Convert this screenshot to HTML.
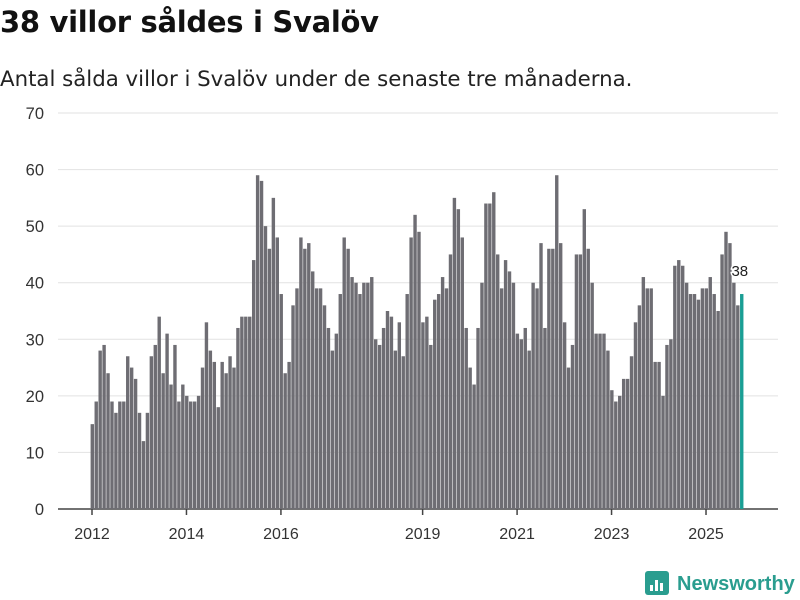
<!DOCTYPE html>
<html><head><meta charset="utf-8"><style>
body{margin:0;width:800px;height:600px;background:#fff;font-family:"Liberation Sans","DejaVu Sans",sans-serif;overflow:hidden;position:relative}
#title{position:absolute;left:0;top:5px;font-size:29px;font-weight:bold;color:#111;margin:0;font-family:"DejaVu Sans","Liberation Sans",sans-serif;letter-spacing:-0.3px}
#sub{position:absolute;left:0;top:67px;font-size:21.3px;color:#222;font-family:"DejaVu Sans","Liberation Sans",sans-serif}
svg{position:absolute;left:0;top:0}
</style></head><body>
<h1 id="title">38 villor såldes i Svalöv</h1>
<div id="sub">Antal sålda villor i Svalöv under de senaste tre månaderna.</div>
<svg id="chart" width="800" height="600"></svg>
<script>
const values=[15,19,28,29,24,19,17,19,19,27,25,23,17,12,17,27,29,34,24,31,22,29,19,22,20,19,19,20,25,33,28,26,18,26,24,27,25,32,34,34,34,44,59,58,50,46,55,48,38,24,26,36,39,48,46,47,42,39,39,36,32,28,31,38,48,46,41,40,38,40,40,41,30,29,32,35,34,28,33,27,38,48,52,49,33,34,29,37,38,41,39,45,55,53,48,32,25,22,32,40,54,54,56,45,39,44,42,40,31,30,32,28,40,39,47,32,46,46,59,47,33,25,29,45,45,53,46,40,31,31,31,28,21,19,20,23,23,27,33,36,41,39,39,26,26,20,29,30,43,44,43,40,38,38,37,39,39,41,38,35,45,49,47,40,36,38];
const startYear=2012;
const yTicks=[0,10,20,30,40,50,60,70];
const xTickYears=[2012,2014,2016,2019,2021,2023,2025];
const NS='http://www.w3.org/2000/svg';
const svg=document.getElementById('chart');
const y=v=>509-v*(396/70);
const x=i=>92+i*3.936;
function mk(t,a){const e=document.createElementNS(NS,t);for(const k in a)e.setAttribute(k,a[k]);svg.appendChild(e);return e;}
yTicks.forEach(t=>{
  const g=mk('line',{x1:58,x2:778,y1:y(t),y2:y(t),stroke:t===0?'#444':'#e2e2e2','stroke-width':t===0?1.5:1});
  
  
  const l=mk('text',{x:44,y:y(t)+6,'text-anchor':'end','font-size':16.5,fill:'#333'});
  l.textContent=t;
  
  
});
values.forEach((v,i)=>{
  const last=i===values.length-1;
  const r=mk('rect',{x:x(i)-1.4,y:y(v),width:3.4,height:y(0)-y(v),fill:last?'#1a9e94':'#6e6d73'});
  
  
});
const li=values.length-1;
const lab=mk('text',{x:x(li)-10,y:y(values[li])-18,'font-size':15,fill:'#222',stroke:'#fff','stroke-width':3,'paint-order':'stroke'});
lab.textContent=values[li];


xTickYears.forEach(yr=>{
  const xi=x((yr-startYear)*12);
  const tk=mk('line',{x1:xi,x2:xi,y1:509,y2:515,stroke:'#444','stroke-width':1.5});
  
  
  const t=mk('text',{x:xi,y:539,'text-anchor':'middle','font-size':16,fill:'#333'});
  t.textContent=yr;
  
  
});
const logo=mk('g',{});


const box=mk('rect',{x:645,y:571,width:24,height:24,rx:3,fill:'#2a9d8f'});


[[650,585,3,6],[655,580,3,11],[660,583,3,8]].forEach(b=>{const r=mk('rect',{x:b[0],y:b[1],width:b[2],height:b[3],fill:'#fff'});});
const lt=mk('text',{x:677,y:590,'font-size':20,'font-weight':'bold',fill:'#2a9d8f'});
lt.textContent='Newsworthy';


</script>
</body></html>
